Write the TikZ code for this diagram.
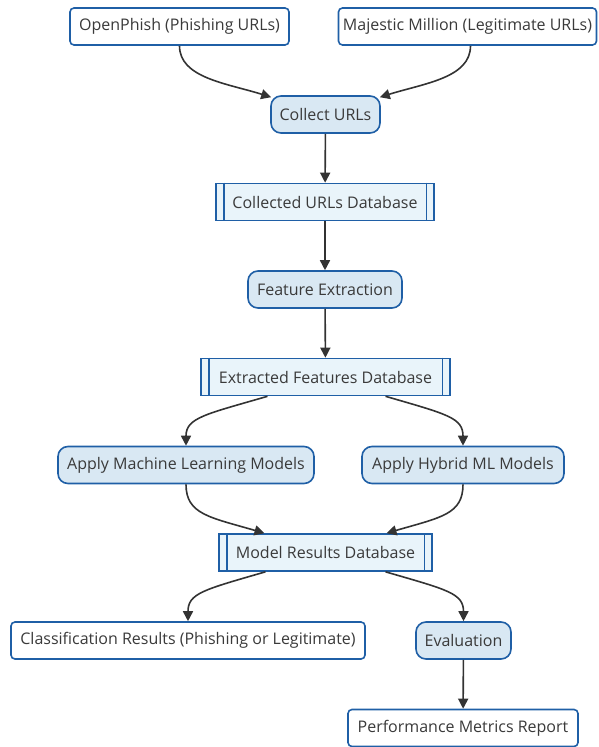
\documentclass[tikz,border=0pt]{standalone}
\usepackage{fontspec}
\setmainfont{Open Sans}
\usetikzlibrary{arrows.meta,calc}
\definecolor{bord}{HTML}{1F5FA6}
\definecolor{procfill}{HTML}{D9E8F3}
\definecolor{dbfill}{HTML}{E9F4FA}
\definecolor{txt}{HTML}{3A3A3A}
\definecolor{edge}{HTML}{333333}
\tikzset{
  base/.style={draw=bord, line width=1.6pt, text=txt, minimum height=37pt, inner xsep=2pt, inner ysep=0pt, font=\fontsize{16}{18}\selectfont},
  iobox/.style={base, fill=white, rounded corners=4pt},
  procbox/.style={base, fill=procfill, rounded corners=10pt},
  dbbox/.style={base, fill=dbfill},
  conn/.style={draw=edge, line width=1.6pt, -{Triangle[length=10pt,width=10pt]}},
}
\newcommand{\dblines}[1]{%
  \draw[bord, line width=1.6pt] ($(#1.north west)+(8.5,0)$) -- ($(#1.south west)+(8.5,0)$);
  \draw[bord, line width=1.6pt] ($(#1.north east)+(-8.5,0)$) -- ($(#1.south east)+(-8.5,0)$);}
\begin{document}
\begin{tikzpicture}[x=1pt,y=-1pt]
\useasboundingbox (0,0) rectangle (598,747);
\node[iobox, minimum width=219pt] (op) at (179.5,26.5) {OpenPhish (Phishing URLs)};
\node[iobox, minimum width=258pt] (maj) at (467.5,26.5) {Majestic Million (Legitimate URLs)};
\node[procbox, minimum width=109pt] (col) at (325.5,114.5) {Collect URLs};
\node[dbbox, minimum width=218pt] (cud) at (325,202) {Collected URLs Database};
\node[procbox, minimum width=154pt] (fe) at (325,289.5) {Feature Extraction};
\node[dbbox, minimum width=249pt] (efd) at (325.5,377) {Extracted Features Database};
\node[procbox, minimum width=256pt] (ml) at (186,465) {Apply Machine Learning Models};
\node[procbox, minimum width=202pt] (hy) at (463,465) {Apply Hybrid ML Models};
\node[dbbox, minimum width=213pt] (mrd) at (325.5,552.5) {Model Results Database};
\node[iobox, minimum width=354pt] (cls) at (188,640.5) {Classification Results (Phishing or Legitimate)};
\node[procbox, minimum width=95pt] (ev) at (463.5,640.5) {Evaluation};
\node[iobox, minimum width=230pt] (pmr) at (463,728) {Performance Metrics Report};
\dblines{cud}
\dblines{efd}
\dblines{mrd}
\draw[conn] (op.south) .. controls +(0,32) and +(-45,-14) .. ($(col.north west)+(1,2)$);
\draw[conn] ($(maj.south)+(3,0)$) .. controls +(0,32) and +(45,-14) .. ($(col.north east)+(-1,2)$);
\draw[conn] (col) -- (cud);
\draw[conn] (cud) -- (fe);
\draw[conn] (fe) -- (efd);
\draw[conn] ($(efd.south)+(-58,0)$) .. controls +(-62,18) and +(0,-28) .. (ml.north);
\draw[conn] ($(efd.south)+(60,0)$) .. controls +(62,18) and +(0,-28) .. (hy.north);
\draw[conn] (ml.south) .. controls +(0,30) and +(-55,-16) .. ($(mrd.north)+(-61,0)$);
\draw[conn] (hy.south) .. controls +(0,30) and +(55,-16) .. ($(mrd.north)+(61,0)$);
\draw[conn] ($(mrd.south)+(-60,0)$) .. controls +(-62,18) and +(0,-28) .. (cls.north);
\draw[conn] ($(mrd.south)+(60,0)$) .. controls +(62,18) and +(0,-28) .. (ev.north);
\draw[conn] (ev) -- (pmr);
\end{tikzpicture}
\end{document}
